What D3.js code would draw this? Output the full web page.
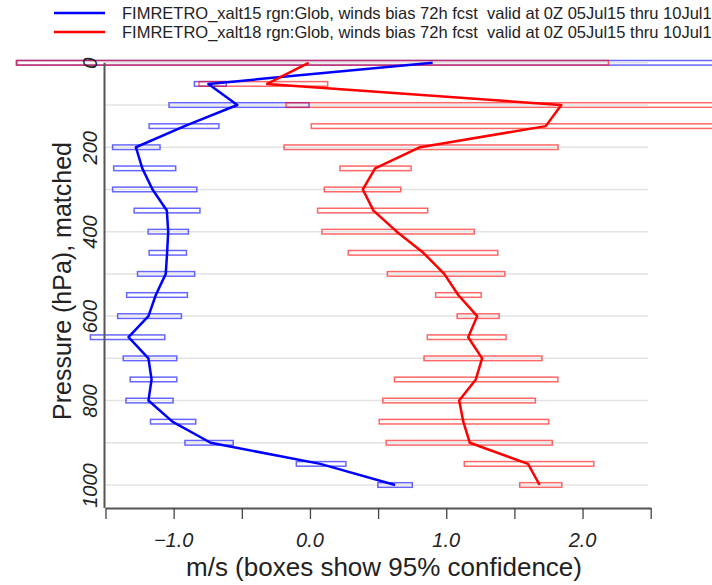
<!DOCTYPE html>
<html>
<head>
<meta charset="utf-8">
<script src="https://cdn.jsdelivr.net/npm/d3@7"></script>
<style>
body { margin: 0; background: #fff; }
text { font-family: "Liberation Sans", Arial, sans-serif; }
</style>
</head>
<body>
<div id="myDiv"></div>
<script>
// pressure levels (hPa)
var levels = [0, 50, 100, 150, 200, 250, 300, 350, 400, 450, 500, 550, 600, 650, 700, 750, 800, 850, 900, 950, 1000];

// xalt15 winds bias + 95% box
var blueBias = [0.90, -0.745, -0.533, -0.92, -1.277, -1.23, -1.155, -1.05, -1.04, -1.048, -1.058, -1.131, -1.185, -1.331, -1.185, -1.162, -1.185, -1.009, -0.729, 0.076, 0.625];
var blueLo = [-2.15, -0.848, -1.034, -1.18, -1.448, -1.44, -1.448, -1.29, -1.187, -1.18, -1.265, -1.345, -1.411, -1.611, -1.37, -1.319, -1.35, -1.17, -0.917, -0.10, 0.498];
var blueHi = [3.95, -0.614, -0.007, -0.668, -1.10, -0.985, -0.83, -0.807, -0.892, -0.906, -0.846, -0.899, -0.943, -1.065, -0.977, -0.977, -1.004, -0.838, -0.563, 0.264, 0.751];

// xalt18
var redBias = [-0.01, -0.314, 1.844, 1.73, 0.808, 0.478, 0.388, 0.466, 0.637, 0.832, 0.985, 1.088, 1.227, 1.161, 1.263, 1.217, 1.095, 1.125, 1.173, 1.60, 1.685];
var redLo = [-2.155, -0.814, -0.175, 0.01, -0.19, 0.22, 0.105, 0.056, 0.088, 0.281, 0.568, 0.922, 1.08, 0.861, 0.837, 0.62, 0.535, 0.508, 0.559, 1.132, 1.539];
var redHi = [2.19, 0.13, 3.86, 3.45, 1.82, 0.742, 0.666, 0.864, 1.205, 1.378, 1.43, 1.256, 1.388, 1.439, 1.702, 1.819, 1.654, 1.751, 1.778, 2.083, 1.848];

var xTicks = [-1.5, -1.0, -0.5, 0.0, 0.5, 1.0, 1.5, 2.0, 2.5];
var xLabels = [-1.0, 0.0, 1.0, 2.0];
var yLabels = [0, 200, 400, 600, 800, 1000];
var gridLevels = [0, 100, 200, 300, 400, 500, 600, 700, 800, 900, 1000];

var legendNames = [
    "FIMRETRO_xalt15 rgn:Glob, winds bias 72h fcst  valid at 0Z 05Jul15 thru 10Jul15",
    "FIMRETRO_xalt18 rgn:Glob, winds bias 72h fcst  valid at 0Z 05Jul15 thru 10Jul15"
];

var series = [
    {color: "#0000ff", box: "rgba(0,0,255,0.6)", bias: blueBias, lo: blueLo, hi: blueHi},
    {color: "#ff0000", box: "rgba(255,0,0,0.6)", bias: redBias, lo: redLo, hi: redHi}
];

var svg = d3.select("#myDiv").append("svg")
    .attr("width", 712)
    .attr("height", 585);

var x = d3.scaleLinear().domain([-1.5, 2.5]).range([105.5, 650.7]);
var y = d3.scaleLinear().domain([0, 1000]).range([62.8, 485]);

// grid
svg.selectAll("line.grid")
    .data(gridLevels)
    .enter()
    .append("line")
    .attr("class", "grid")
    .attr("x1", 105)
    .attr("x2", 648)
    .attr("y1", function(d){ return y(d); })
    .attr("y2", function(d){ return y(d); })
    .attr("stroke", "#e3e3e3")
    .attr("stroke-width", 1.5);

// confidence boxes
series.forEach(function(s){
    svg.append("g").selectAll("rect")
        .data(levels)
        .enter()
        .append("rect")
        .attr("x", function(d, i){ return x(s.lo[i]); })
        .attr("y", function(d){ return y(d) - 2.3; })
        .attr("width", function(d, i){ return x(s.hi[i]) - x(s.lo[i]); })
        .attr("height", 4.6)
        .attr("fill", "none")
        .attr("stroke", s.box)
        .attr("stroke-width", 1.5);
});

// bias lines
var line = d3.line()
    .x(function(d){ return x(d[0]); })
    .y(function(d){ return y(d[1]); });

series.forEach(function(s){
    svg.append("path")
        .datum(levels.map(function(p, i){ return [s.bias[i], p]; }))
        .attr("d", line)
        .attr("fill", "none")
        .attr("stroke", s.color)
        .attr("stroke-width", 2.5)
        .attr("stroke-linejoin", "round");
});

// x axis
var xAxis = svg.append("g")
    .attr("transform", "translate(0,508)")
    .call(d3.axisBottom(x).tickValues(xTicks).tickSize(11).tickSizeOuter(0).tickFormat(""));
xAxis.selectAll("line").attr("stroke", "#444").attr("stroke-width", 1.3);
xAxis.select(".domain").attr("stroke", "#555").attr("stroke-width", 2);

svg.selectAll("text.xlab")
    .data(xLabels)
    .enter()
    .append("text")
    .attr("class", "xlab")
    .attr("x", function(d){ return x(d); })
    .attr("y", 547)
    .attr("text-anchor", "middle")
    .attr("font-size", 20)
    .attr("font-style", "italic")
    .attr("fill", "#222")
    .text(function(d){ return d3.format(".1f")(d); });

// y axis
var yAxis = svg.append("g")
    .attr("transform", "translate(104.5,0)")
    .call(d3.axisLeft(y).tickValues(yLabels).tickSize(0).tickFormat(d3.format("d")));
yAxis.select(".domain").attr("stroke", "#555").attr("stroke-width", 2)
    .attr("d", "M0," + y(0) + "V508");
yAxis.selectAll("text")
    .attr("font-size", 20)
    .attr("font-style", "italic")
    .attr("font-family", "Liberation Sans, Arial, sans-serif")
    .attr("fill", "#222")
    .attr("text-anchor", "middle")
    .attr("dy", 0)
    .attr("x", 0)
    .attr("y", 0)
    .attr("transform", "translate(-8,0) rotate(-90)");

// axis titles
svg.append("text")
    .attr("x", 384)
    .attr("y", 576)
    .attr("text-anchor", "middle")
    .attr("font-size", 26)
    .attr("fill", "#222")
    .text("m/s (boxes show 95% confidence)");

svg.append("text")
    .attr("transform", "translate(71,281) rotate(-90)")
    .attr("text-anchor", "middle")
    .attr("font-size", 25)
    .attr("fill", "#222")
    .text("Pressure (hPa), matched");

// legend
var legend = svg.selectAll("g.legend")
    .data(series)
    .enter()
    .append("g")
    .attr("class", "legend")
    .attr("transform", function(d, i){ return "translate(0," + (13 + i * 19) + ")"; });

legend.append("line")
    .attr("x1", 54)
    .attr("x2", 105)
    .attr("stroke", function(d){ return d.color; })
    .attr("stroke-width", 2.5);

legend.append("text")
    .attr("x", 122)
    .attr("y", 6)
    .attr("font-size", 16.5)
    .attr("fill", "#222")
    .style("white-space", "pre")
    .text(function(d, i){ return legendNames[i]; });
</script>
</body>
</html>
